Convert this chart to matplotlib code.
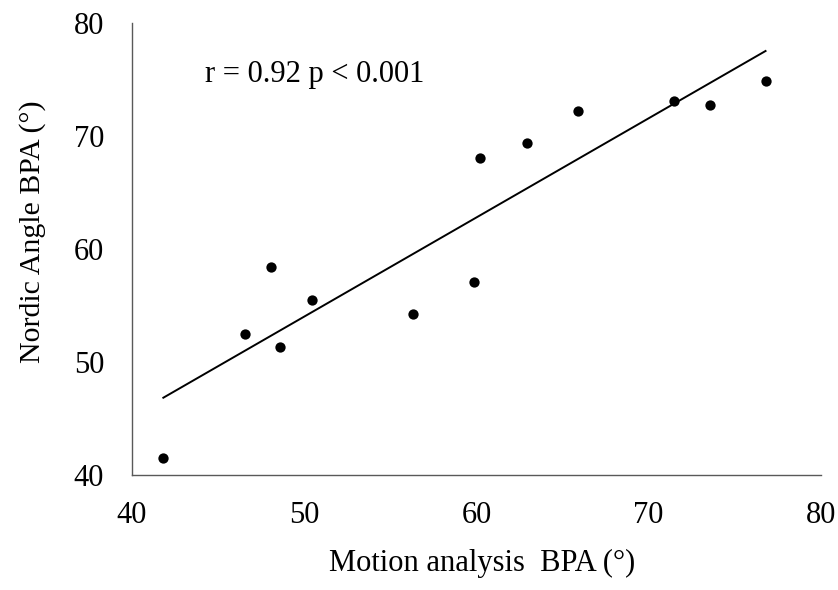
import numpy as np
import matplotlib
matplotlib.use("Agg")
import matplotlib.pyplot as plt

plt.rcParams["font.family"] = ["Liberation Serif", "DejaVu Serif"]

# values
motion_bpa = [41.82, 46.58, 48.05, 48.61, 50.47, 56.33, 59.85, 60.2, 62.91, 65.88, 71.48, 73.56, 76.79]
nordic_bpa = [41.53, 52.48, 58.41, 51.35, 55.49, 54.25, 57.05, 68.08, 69.38, 72.21, 73.07, 72.74, 74.89]
ticks = [40, 50, 60, 70, 80]
stat_text = "r = 0.92 p < 0.001"

x = np.array(motion_bpa)
y = np.array(nordic_bpa)
slope, icpt = np.polyfit(x, y, 1)
xf = np.array([x.min(), x.max()])

fig = plt.figure(figsize=(8.38, 5.90), dpi=100)
ax = fig.add_axes([0.1575, 0.195, 0.822, 0.766])

ax.plot(xf, slope*xf + icpt, color="black", lw=1.4)
ax.scatter(x, y, s=55, color="black", linewidths=0, zorder=3)

ax.set_xlim(40, 80)
ax.set_ylim(40, 80)
ax.set_xticks(ticks)
ax.set_yticks(ticks)
ax.tick_params(length=0, labelsize=22)
ax.tick_params(axis="x", pad=19)
ax.tick_params(axis="y", pad=20)
for side in ("top", "right"):
    ax.spines[side].set_visible(False)
for side in ("left", "bottom"):
    ax.spines[side].set_color("#595959")
    ax.spines[side].set_linewidth(1.0)

ax.text(44.24, 74.78, stat_text, fontsize=22, ha="left", va="baseline")

ax.set_xlabel("Motion analysis  BPA (°)", fontsize=22, va="center")
ax.set_ylabel("Nordic Angle BPA (°)", fontsize=21.5, va="center")
ax.xaxis.set_label_coords(0.508, -0.195)
ax.yaxis.set_label_coords(-0.145, 0.538)

fig.savefig("out.png", dpi=100)
